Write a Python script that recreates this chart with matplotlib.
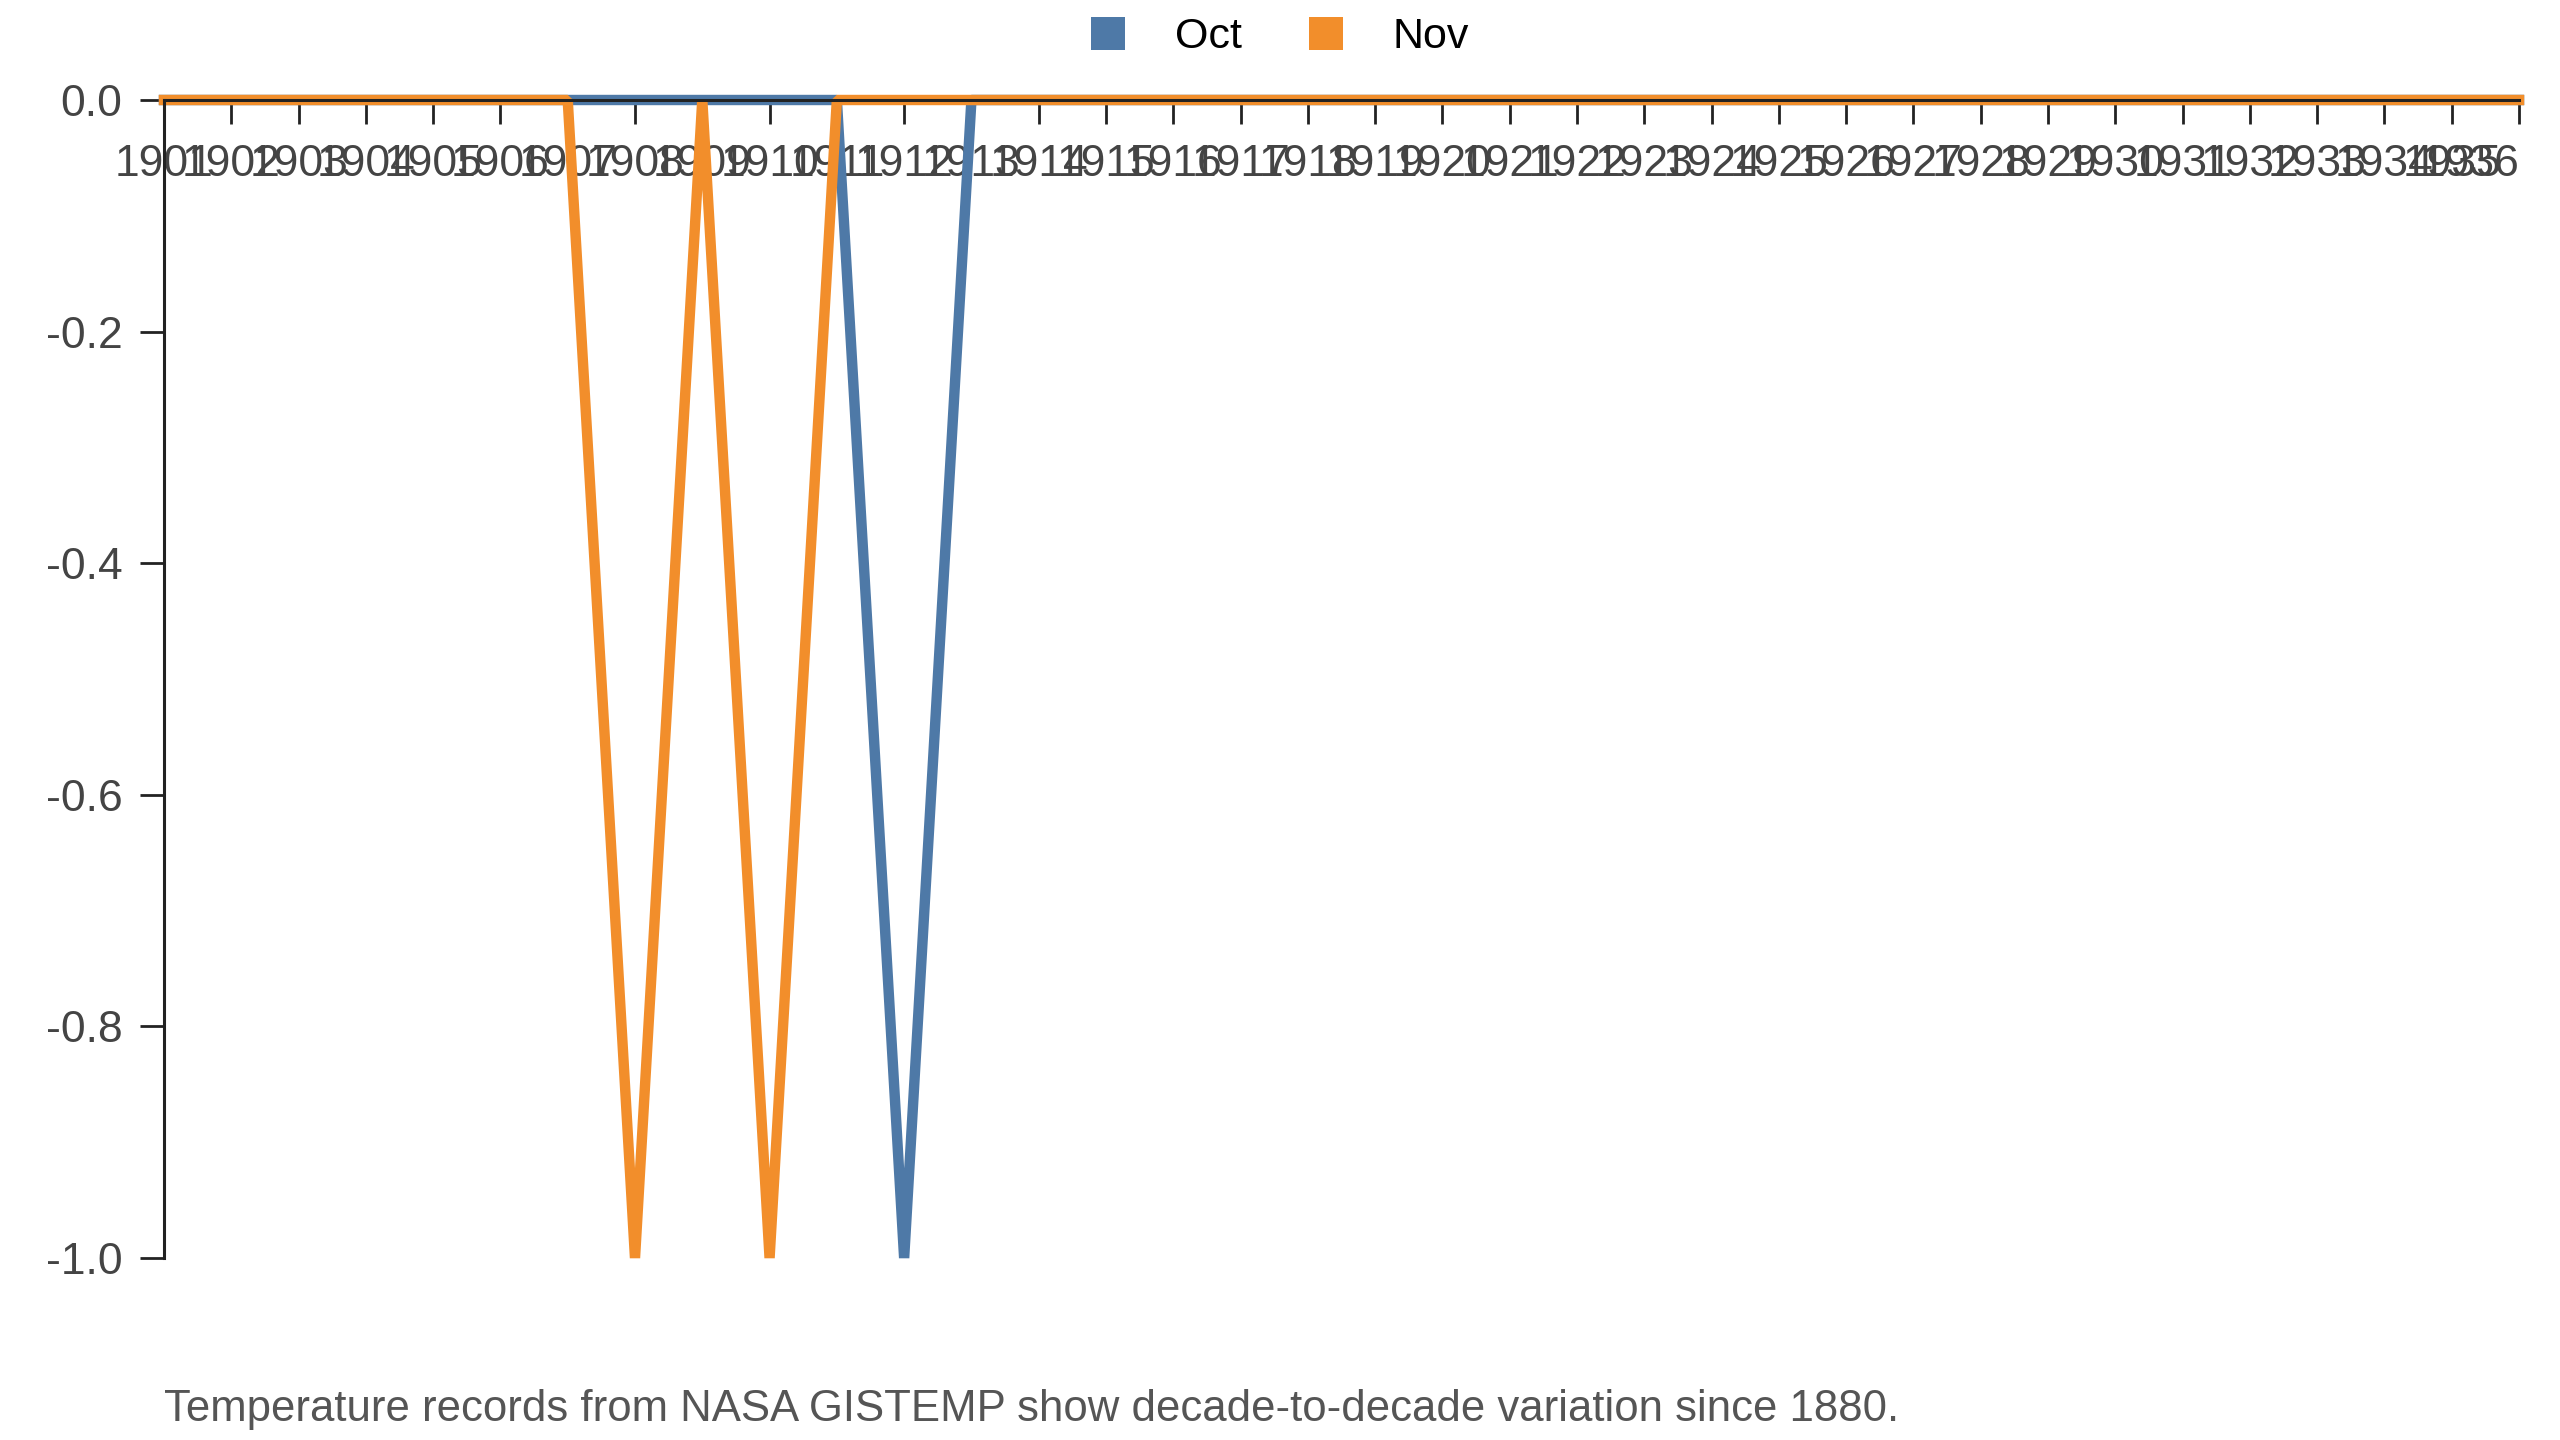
import matplotlib
matplotlib.use("Agg")
import matplotlib.pyplot as plt
from matplotlib.patches import Patch

# Données
years = [1901, 1902, 1903, 1904, 1905, 1906, 1907, 1908, 1909, 1910,
         1911, 1912, 1913, 1914, 1915, 1916, 1917, 1918, 1919, 1920,
         1921, 1922, 1923, 1924, 1925, 1926, 1927, 1928, 1929, 1930,
         1931, 1932, 1933, 1934, 1935, 1936]
oct_vals = [0, 0, 0, 0, 0, 0, 0, 0, 0, 0,
            0, -1, 0, 0, 0, 0, 0, 0, 0, 0,
            0, 0, 0, 0, 0, 0, 0, 0, 0, 0,
            0, 0, 0, 0, 0, 0]
nov_vals = [0, 0, 0, 0, 0, 0, 0, -1, 0, -1,
            0, 0, 0, 0, 0, 0, 0, 0, 0, 0,
            0, 0, 0, 0, 0, 0, 0, 0, 0, 0,
            0, 0, 0, 0, 0, 0]
y_ticks = [0.0, -0.2, -0.4, -0.6, -0.8, -1.0]
series_names = ["Oct", "Nov"]
colors = ["#4e79a7", "#f28e2b"]
caption = "Temperature records from NASA GISTEMP show decade-to-decade variation since 1880."

plt.rcParams['font.family'] = ['Liberation Sans', 'DejaVu Sans']

fig = plt.figure(figsize=(25.6, 14.4), dpi=100)
ax = fig.add_axes([164 / 2560, 1 - 1258 / 1440, (2519 - 164) / 2560, (1258 - 100) / 1440])

for vals, col in zip([oct_vals, nov_vals], colors):
    ax.plot(years, vals, color=col, lw=7.5, solid_joinstyle='bevel',
            clip_on=False, zorder=2)

ax.set_xlim(years[0], years[-1])
ax.set_ylim(-1.0, 0.0)

# axe x en haut (y = 0), ticks vers le bas
ax.spines['bottom'].set_position(('data', 0))
ax.spines['top'].set_visible(False)
ax.spines['right'].set_visible(False)
for s in ['bottom', 'left']:
    ax.spines[s].set_color('#222222')
    ax.spines[s].set_linewidth(2.2)
    ax.spines[s].set_zorder(5)

ax.set_xticks(years)
ax.set_xticklabels([str(y) for y in years])
ax.set_yticks(y_ticks)
ax.set_yticklabels([f"{v:.1f}" for v in y_ticks])
ax.tick_params(axis='both', length=17, width=2, color='#222222',
               labelsize=32, labelcolor='#444444')
ax.tick_params(axis='x', direction='out', pad=15)
ax.tick_params(axis='y', pad=13)
ax.get_xticklabels()[-1].set_ha('right')

handles = [Patch(facecolor=c, edgecolor='none') for c in colors]
fig.legend(handles, series_names, loc='center', bbox_to_anchor=(0.5, 1 - 37 / 1440),
           ncol=2, frameon=False, fontsize=31, handlelength=0.8, handleheight=0.8,
           handletextpad=1.15, columnspacing=1.55, borderaxespad=0)

fig.text(164 / 2560, 1 - 1410 / 1440, caption, fontsize=31.5, color='#555555',
         ha='left', va='center')

fig.savefig('out.png', dpi=100)
